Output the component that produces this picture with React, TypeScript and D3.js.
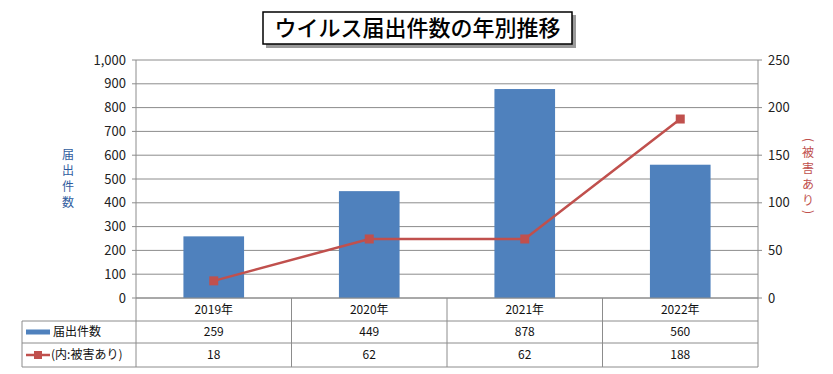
import React from "react";
import * as d3 from "d3";

const categories = ["2019年", "2020年", "2021年", "2022年"];
const reports = [259, 449, 878, 560];
const damaged = [18, 62, 62, 188];
const leftTicks = [0, 100, 200, 300, 400, 500, 600, 700, 800, 900, 1000];
const rightTicks = [0, 50, 100, 150, 200, 250];
const seriesNames = ["届出件数", "(内:被害あり)"];
const leftTitle = ["届", "出", "件", "数"];
const rightTitle = ["被", "害", "あ", "り"];
const title = "ウイルス届出件数の年別推移";

const W = 833, H = 374;
const M = { left: 136, right: 758, top: 60, bottom: 298 };
const BLUE = "#4F81BD";
const RED = "#C0504D";
const GRID = "#8c8c8c";
const FONT = "'Noto Sans CJK JP', 'Noto Sans', sans-serif";

export default function App() {
  const x = d3.scaleBand<string>().domain(categories).range([M.left, M.right]).paddingInner(0).paddingOuter(0);
  const yL = d3.scaleLinear().domain([0, 1000]).range([M.bottom, M.top]);
  const yR = d3.scaleLinear().domain([0, 250]).range([M.bottom, M.top]);
  const bw = x.bandwidth() * 0.39;
  const cx = (c: string) => (x(c) as number) + x.bandwidth() / 2;
  const line = d3.line<number>().x((_, i) => cx(categories[i])).y((d) => yR(d));
  const fmt = d3.format(",");

  const tableLeft = 22;
  const rowY = [298, 321, 343, 367];

  return (
    <div style={{ position: "absolute", left: 0, top: 0 }}>
      <svg width={W} height={H} style={{ display: "block", background: "#fff" }} fontFamily={FONT}>
        {/* title */}
        <rect x={266} y={15} width={310} height={33} fill="#9a9a9a" />
        <rect x={263} y={12} width={309} height={32} fill="#fff" stroke="#000" strokeWidth={1.5} />
        <text x={417.5} y={36} textAnchor="middle" fontSize={22} fill="#000" fontWeight={500}>{title}</text>

        {/* gridlines */}
        {leftTicks.map((t) => (
          <line key={"g" + t} x1={M.left} x2={M.right} y1={yL(t)} y2={yL(t)} stroke={GRID} strokeWidth={1} />
        ))}
        {/* left axis */}
        <line x1={M.left} x2={M.left} y1={M.top} y2={M.bottom} stroke={GRID} />
        {leftTicks.map((t) => (
          <g key={"l" + t}>
            <line x1={M.left - 4} x2={M.left} y1={yL(t)} y2={yL(t)} stroke={GRID} />
            <text x={M.left - 10} y={yL(t)} dy="0.35em" textAnchor="end" fontSize={13} fill="#222">{fmt(t)}</text>
          </g>
        ))}
        {/* right axis */}
        <line x1={M.right} x2={M.right} y1={M.top} y2={M.bottom} stroke={GRID} />
        {rightTicks.map((t) => (
          <g key={"r" + t}>
            <line x1={M.right} x2={M.right + 4} y1={yR(t)} y2={yR(t)} stroke={GRID} />
            <text x={M.right + 10} y={yR(t)} dy="0.35em" textAnchor="start" fontSize={13} fill="#222">{t}</text>
          </g>
        ))}

        {/* axis titles */}
        {leftTitle.map((ch, i) => (
          <text key={"lt" + i} x={68} y={155 + i * 16} dy="0.35em" textAnchor="middle" fontSize={12} fill="#2F5C9E">{ch}</text>
        ))}
        <text x={0} y={0} dy="0.35em" textAnchor="middle" fontSize={12} fill={RED}
          transform="translate(808,140) rotate(90)">(</text>
        {rightTitle.map((ch, i) => (
          <text key={"rt" + i} x={808} y={153 + i * 16} dy="0.35em" textAnchor="middle" fontSize={12} fill={RED}>{ch}</text>
        ))}
        <text x={0} y={0} dy="0.35em" textAnchor="middle" fontSize={12} fill={RED}
          transform="translate(808,212) rotate(90)">)</text>

        {/* bars */}
        {reports.map((v, i) => (
          <rect key={"b" + i} x={cx(categories[i]) - bw / 2} y={yL(v)} width={bw} height={M.bottom - yL(v)} fill={BLUE} />
        ))}

        {/* line */}
        <path d={line(damaged) as string} fill="none" stroke={RED} strokeWidth={2.5} />
        {damaged.map((v, i) => (
          <rect key={"m" + i} x={cx(categories[i]) - 4.5} y={yR(v) - 4.5} width={9} height={9} fill={RED} />
        ))}

        {/* table */}
        <line x1={M.left} x2={M.right} y1={rowY[0]} y2={rowY[0]} stroke={GRID} />
        {rowY.slice(1).map((y) => (
          <line key={"h" + y} x1={tableLeft} x2={M.right} y1={y} y2={y} stroke={GRID} />
        ))}
        <line x1={tableLeft} x2={tableLeft} y1={rowY[1]} y2={rowY[3]} stroke={GRID} />
        {[...categories.map((c) => x(c) as number), M.right].map((xx, i) => (
          <line key={"v" + i} x1={xx} x2={xx} y1={rowY[0]} y2={rowY[3]} stroke={GRID} />
        ))}
        {categories.map((c, i) => (
          <g key={"t" + c}>
            <text x={cx(c)} y={(rowY[0] + rowY[1]) / 2} dy="0.35em" textAnchor="middle" fontSize={12} fill="#111">{c}</text>
            <text x={cx(c)} y={(rowY[1] + rowY[2]) / 2} dy="0.35em" textAnchor="middle" fontSize={12} fill="#111">{reports[i]}</text>
            <text x={cx(c)} y={(rowY[2] + rowY[3]) / 2} dy="0.35em" textAnchor="middle" fontSize={12} fill="#111">{damaged[i]}</text>
          </g>
        ))}
        {/* legend keys in table */}
        <rect x={26} y={(rowY[1] + rowY[2]) / 2 - 2.5} width={24} height={5} fill={BLUE} />
        <text x={53} y={(rowY[1] + rowY[2]) / 2} dy="0.35em" fontSize={12} fill="#111">{seriesNames[0]}</text>
        <line x1={26} x2={50} y1={(rowY[2] + rowY[3]) / 2} y2={(rowY[2] + rowY[3]) / 2} stroke={RED} strokeWidth={2.5} />
        <rect x={34} y={(rowY[2] + rowY[3]) / 2 - 4} width={8} height={8} fill={RED} />
        <text x={51} y={(rowY[2] + rowY[3]) / 2} dy="0.35em" fontSize={12} fill="#111">{seriesNames[1]}</text>
      </svg>
    </div>
  );
}
